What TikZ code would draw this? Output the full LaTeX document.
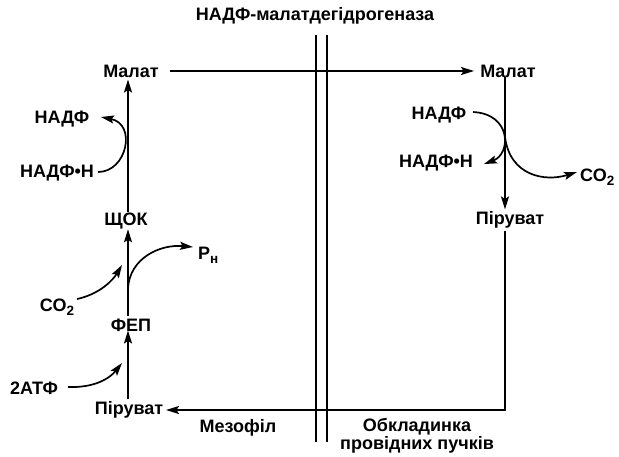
\documentclass[tikz,border=0pt]{standalone}
\usepackage{fontspec}
\setmainfont{Liberation Sans}
\usetikzlibrary{arrows.meta}
\newcommand{\sbs}[1]{\raisebox{-4pt}{\fontsize{13.5}{12}\selectfont #1}}
\begin{document}
\begin{tikzpicture}[x=1pt,y=-1pt,
  lbl/.style={inner sep=1pt,font=\bfseries\fontsize{18}{19}\selectfont},
  ln/.style={line width=1.7pt},
  arr/.style={line width=1.7pt,-{Stealth[length=13pt,width=8pt,inset=2.5pt]}}]
\useasboundingbox (0,0) rectangle (619,456);
% texts
\node[lbl] (title) at (315,16) {НАДФ-малатдегідрогеназа};
\node[lbl] (malatL) at (131,71) {Малат};
\node[lbl] (malatR) at (508,71) {Малат};
\node[lbl] (nadfL) at (62,119) {НАДФ};
\node[lbl] (nadfhL) at (57,173) {НАДФ•Н};
\node[lbl] (schok) at (126,221) {ЩОК};
\node[lbl,anchor=west] (pn) at (197,255) {Р\sbs{н}};
\node[lbl] (co2L) at (57,307) {СО\sbs{2}};
\node[lbl] (fep) at (131,325) {ФЕП};
\node[lbl] (atf) at (34,388) {2АТФ};
\node[lbl] (piruvL) at (129,410) {Піруват};
\node[lbl] (mezofil) at (238,428) {Мезофіл};
\node[lbl,align=center,font=\bfseries\fontsize{18}{18}\selectfont] (obkl) at (417,436) {Обкладинка\\провідних пучків};
\node[lbl] (piruvR) at (510,220) {Піруват};
\node[lbl] (nadfR) at (439,115) {НАДФ};
\node[lbl] (nadfhR) at (436,163) {НАДФ•Н};
\node[lbl,anchor=west] (co2R) at (579,177) {СО\sbs{2}};
% membrane
\coordinate (m1t) at (316,35); \coordinate (m1b) at (316,442);
\coordinate (m2t) at (327,35); \coordinate (m2b) at (327,442);
\draw[ln] (m1t) -- (m1b);
\draw[ln] (m2t) -- (m2b);
% malate transport
\coordinate (msL) at (170,71);
\coordinate (msR) at (474,71);
\draw[arr] (msL) -- (msR);
% left column
\coordinate (axL) at (128,0);
\draw[arr] (schok.north -| axL) -- ([yshift=-1pt]malatL.south -| axL);
\draw[arr] ([yshift=2pt]fep.north -| axL) -- ([yshift=1pt]schok.south -| axL);
\draw[arr] ([yshift=1pt]piruvL.north -| axL) -- ([yshift=2pt]fep.south -| axL);
\coordinate (nhLs) at (98,172); \coordinate (nLe) at (101,117);
\draw[arr] (nhLs) .. controls (127,172) and (137,124) .. (nLe);
\coordinate (cLs) at (77,299); \coordinate (cLe) at (122,265);
\draw[arr] (cLs) .. controls (100,294) and (113,280) .. (cLe);
\coordinate (pnS) at (128,288); \coordinate (pnE) at (193,247);
\draw[arr] (pnS) .. controls (130,258) and (160,244) .. (pnE);
\coordinate (aS) at (68,387); \coordinate (aE) at (122,363);
\draw[arr] (aS) .. controls (95,388) and (110,378) .. (aE);
% right column
\coordinate (axR) at (505,0);
\draw[arr] ([yshift=1pt]malatR.south -| axR) -- ([yshift=1pt]piruvR.north -| axR);
\coordinate (nRs) at (473,112); \coordinate (nhRe) at (484,164);
\draw[arr] (nRs) .. controls (512,114) and (511,154) .. (nhRe);
\coordinate (c2S) at (505,137); \coordinate (c2E) at (577,172);
\draw[arr] (c2S) .. controls (510,176) and (545,182) .. (c2E);
\coordinate (corner) at (505,410); \coordinate (pLe) at (166,410);
\draw[arr] ([yshift=-1pt]piruvR.south -| axR) -- (corner) -- (pLe);
\end{tikzpicture}
\end{document}
